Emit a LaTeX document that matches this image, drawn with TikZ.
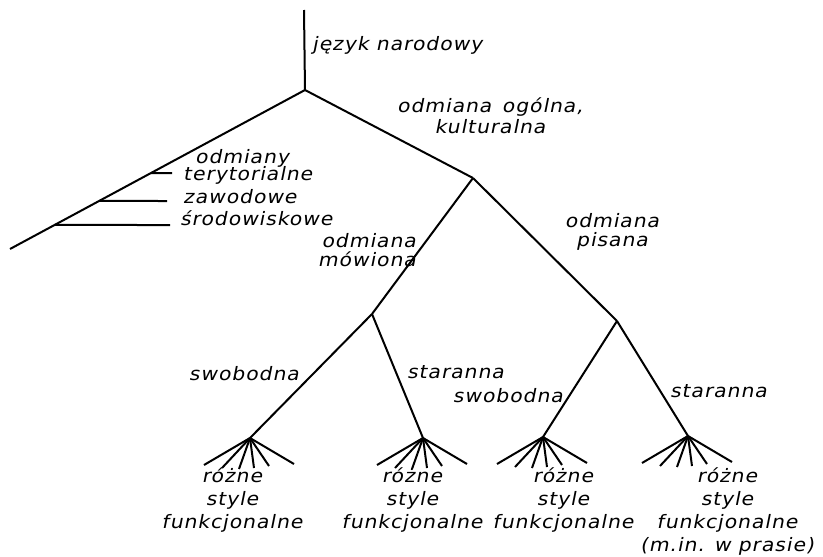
\documentclass[tikz,border=0pt]{standalone}
\usepackage{fontspec}
\newfontfamily\hand[FakeSlant=0.2,FakeStretch=1.1,LetterSpace=5]{DejaVu Sans}
\begin{document}
\begin{tikzpicture}[
x=1pt, y=-1pt,
line/.style={line width=2pt, line join=round},
lbl/.style={font=\hand\fontsize{18.5}{21}\selectfont, inner sep=0pt, align=center},
twoline/.style={lbl, font=\hand\fontsize{18.5}{19}\selectfont},
fanlbl/.style={lbl, anchor=north, font=\hand\fontsize{18.5}{23}\selectfont}
]
\useasboundingbox (0,0) rectangle (823,557);
\coordinate (top) at (304,10);
\coordinate (root) at (305,90);
\coordinate (leftend) at (10,249);
\coordinate (general) at (473,178);
\coordinate (spoken) at (372,314);
\coordinate (written) at (617,321);
\coordinate (fana) at (250,438);
\coordinate (fanb) at (423,438);
\coordinate (fanc) at (543,437);
\coordinate (fand) at (688,436);
\path (root) -- (leftend) coordinate[pos=0.522] (terr) coordinate[pos=0.698] (prof) coordinate[pos=0.849] (env);
\coordinate (terrend) at (172,173);
\coordinate (profend) at (167,201);
\coordinate (envend) at (170,225);

\draw[line] (top) -- (root);
\draw[line] (root) -- (leftend);
\draw[line] (root) -- (general);
\draw[line] (general) -- (spoken);
\draw[line] (general) -- (written);
\draw[line] (spoken) -- (fana);
\draw[line] (spoken) -- (fanb);
\draw[line] (written) -- (fanc);
\draw[line] (written) -- (fand);
\draw[line] (terr) -- (terrend);
\draw[line] (prof) -- (profend);
\draw[line] (env) -- (envend);
\foreach \f in {fana,fanb,fanc,fand}
  \foreach \dx/\dy [count=\i] in {-46/27,-28/30,-11/31,4/30,19/28,44/26}
    \draw[line] (\f) -- ++(\dx,\dy) coordinate (\f-\i);

\node[lbl, anchor=base west] (national) at (312,50) {język narodowy};
\node[lbl, anchor=north] (generallbl) at (490,98) {odmiana \,ogólna,\\kulturalna};
\node[lbl, anchor=base west] (varieties) at (195,163) {odmiany};
\node[lbl, anchor=base west] (territorial) at (183,180) {terytorialne};
\node[lbl, anchor=base west] (professional) at (183,203) {zawodowe};
\node[lbl, anchor=base west] (environmental) at (180,225) {środowiskowe};
\node[twoline, anchor=north east, align=right] (spokenlbl) at (416,233) {odmiana\\mówiona};
\node[twoline, anchor=north] (writtenlbl) at (612,213) {odmiana\\pisana};
\node[lbl, anchor=base east] (freea) at (299,380) {swobodna};
\node[lbl, anchor=base west] (carefula) at (407,378) {staranna};
\node[lbl, anchor=base east] (freeb) at (563,402) {swobodna};
\node[lbl, anchor=base west] (carefulb) at (670,397) {staranna};
\node[fanlbl] (stylesa) at (232,467) {różne\\style\\funkcjonalne};
\node[fanlbl] (stylesb) at (412,467) {różne\\style\\funkcjonalne};
\node[fanlbl] (stylesc) at (563,467) {różne\\style\\funkcjonalne};
\node[fanlbl] (stylesd) at (727,467) {różne\\style\\funkcjonalne\\(m.in. w prasie)};
\end{tikzpicture}
\end{document}
